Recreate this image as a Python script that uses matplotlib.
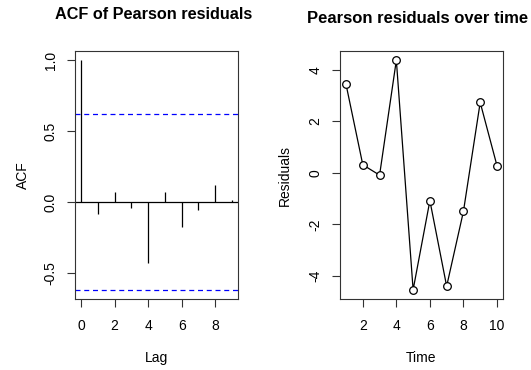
import matplotlib
matplotlib.use("Agg")
import matplotlib.pyplot as plt
import numpy as np

plt.rcParams['font.family'] = ['Liberation Sans', 'DejaVu Sans']
plt.rcParams['axes.unicode_minus'] = False

# ACF of Pearson residuals
lags = [0, 1, 2, 3, 4, 5, 6, 7, 8, 9]
acf_vals = [1.0, -0.085, 0.071, -0.042, -0.432, 0.071, -0.18, -0.054, 0.122, 0.016]
n_obs = 10
clim = 1.96 / np.sqrt(n_obs)

# Pearson residuals over time
time = [1, 2, 3, 4, 5, 6, 7, 8, 9, 10]
resid = [3.43, 0.31, -0.09, 4.37, -4.54, -1.08, -4.40, -1.50, 2.73, 0.28]

W, H = 531, 370
fig = plt.figure(figsize=(W/100, H/100), dpi=100)

def r_range(lo, hi):
    # R pads axis ranges by 4%
    d = (hi - lo) * 0.04
    return lo - d, hi + d

def style(ax):
    for s in ax.spines.values():
        s.set_color('#333333')
        s.set_linewidth(0.8)
    ax.tick_params(direction='out', length=5.5, width=0.8, color='#333333',
                   labelsize=10)
    ax.tick_params(axis='x', pad=9)
    ax.tick_params(axis='y', pad=7)
    for lab in ax.get_yticklabels():
        lab.set_rotation(90)
        lab.set_va('center')

# left panel
ax1 = fig.add_axes([75/W, 71/H, 163/W, 248/H])
ax1.vlines(lags, 0, acf_vals, color='black', lw=0.9)
ax1.axhline(0, color='black', lw=0.9)
ax1.axhline(clim, color='blue', lw=0.9, ls=(0, (4, 3)))
ax1.axhline(-clim, color='blue', lw=0.9, ls=(0, (4, 3)))
ax1.set_xlim(*r_range(0, 9))
ax1.set_ylim(*r_range(-clim, 1.0))
ax1.set_xticks([0, 2, 4, 6, 8])
ax1.set_yticks([-0.5, 0.0, 0.5, 1.0])
ax1.set_yticklabels(['-0.5', '0.0', '0.5', '1.0'])
ax1.set_xlabel('Lag', fontsize=10, labelpad=13)
ax1.set_ylabel('ACF', fontsize=10, labelpad=10)
ax1.set_title('ACF of Pearson residuals', fontsize=11.7, fontweight='bold',
              pad=23, x=0.482)
style(ax1)

# right panel
ax2 = fig.add_axes([340/W, 71/H, 163/W, 248/H])
ax2.plot(time, resid, color='black', lw=0.9, marker='o', ms=5.5,
         mfc='white', mec='black', mew=0.9)
ax2.set_xlim(*r_range(1, 10))
ax2.set_ylim(*r_range(min(resid), max(resid)))
ax2.set_xticks([2, 4, 6, 8, 10])
ax2.set_yticks([-4, -2, 0, 2, 4])
ax2.set_xlabel('Time', fontsize=10, labelpad=13)
ax2.set_ylabel('Residuals', fontsize=10, labelpad=12)
ax2.set_title('Pearson residuals over time', fontsize=12.0, fontweight='bold',
              pad=20, x=0.475)
style(ax2)

fig.savefig('out.png', dpi=100)
